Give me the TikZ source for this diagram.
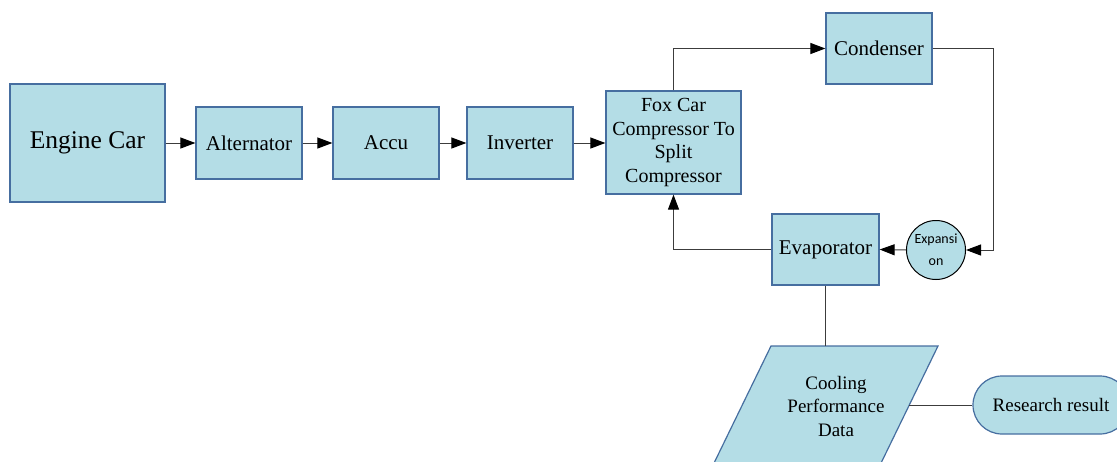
\documentclass[tikz,border=0pt]{standalone}
\usepackage{fontspec}
\setmainfont{Liberation Serif}
\newfontfamily\tnr{Liberation Serif}
\newfontfamily\calib{Carlito}
\usetikzlibrary{arrows.meta}
\definecolor{boxfill}{RGB}{180,221,230}
\definecolor{boxline}{RGB}{70,110,160}
\definecolor{wire}{RGB}{60,60,60}
\begin{document}
\begin{tikzpicture}[x=1pt,y=-1pt,
  blk/.style={draw=boxline,line width=1.2pt,fill=boxfill,inner sep=0pt,align=center,font=\tnr\fontsize{21}{24}\selectfont},
  conn/.style={draw=wire,line width=1pt},
  arr/.style={conn,-{Triangle[length=15pt,width=11pt,fill=black,color=black]}}]
\useasboundingbox (0,0) rectangle (1117,461);
\clip (0,0) rectangle (1117,461);
% boxes
\node[blk,minimum width=155,minimum height=118,font=\tnr\fontsize{25.5}{29}\selectfont] (eng) at (87.5,143) {Engine Car};
\node[blk,minimum width=106,minimum height=72] (alt) at (249,143) {Alternator};
\node[blk,minimum width=106,minimum height=72] (acc) at (386,143) {Accu};
\node[blk,minimum width=106,minimum height=72] (inv) at (520,143) {Inverter};
\node[blk,minimum width=135,minimum height=103,font=\tnr\fontsize{20}{23.7}\selectfont] (fox) at (673.5,142.5) {Fox Car\\Compressor To\\Split\\Compressor};
\node[blk,minimum width=106,minimum height=71] (con) at (879,48.5) {Condenser};
\node[blk,minimum width=107,minimum height=71] (eva) at (825.5,249.5) {Evaporator};
\node[draw=black,line width=1pt,fill=boxfill,circle,minimum size=59,inner sep=0pt,align=center,font=\calib\fontsize{14}{22}\selectfont] (exp) at (936,250) {Expansi\\on};
% parallelogram
\draw[draw=boxline,line width=1.2pt,fill=boxfill] (771,346) -- (938,346) -- (879.6,466) -- (712.6,466) -- cycle;
\node[inner sep=0pt,align=center,font=\tnr\fontsize{19}{23.5}\selectfont] (cpd) at (836,406) {Cooling\\Performance\\Data};
\coordinate (cpdtop) at (825.5,346);
\coordinate (cpdright) at (909,405);
% research result
\node[blk,rounded corners=29pt,minimum width=156,minimum height=58,font=\tnr\fontsize{19}{22}\selectfont] (res) at (1051,405) {Research result};
% connectors
\draw[arr] (eng.east) -- (alt.west);
\draw[arr] (alt.east) -- (acc.west);
\draw[arr] (acc.east) -- (inv.west);
\draw[arr] (inv.east) -- (inv.east -| fox.west);
\draw[arr] (fox.north) |- (con.west);
\draw[arr] (con.east) -- ++(61,0) |- (exp.east);
\draw[arr] (exp.west) -- (eva.east);
\draw[arr] (eva.west) -| (fox.south);
\draw[conn] (eva.south) -- (cpdtop);
\draw[conn] (cpdright) -- (res.west);
\end{tikzpicture}
\end{document}
